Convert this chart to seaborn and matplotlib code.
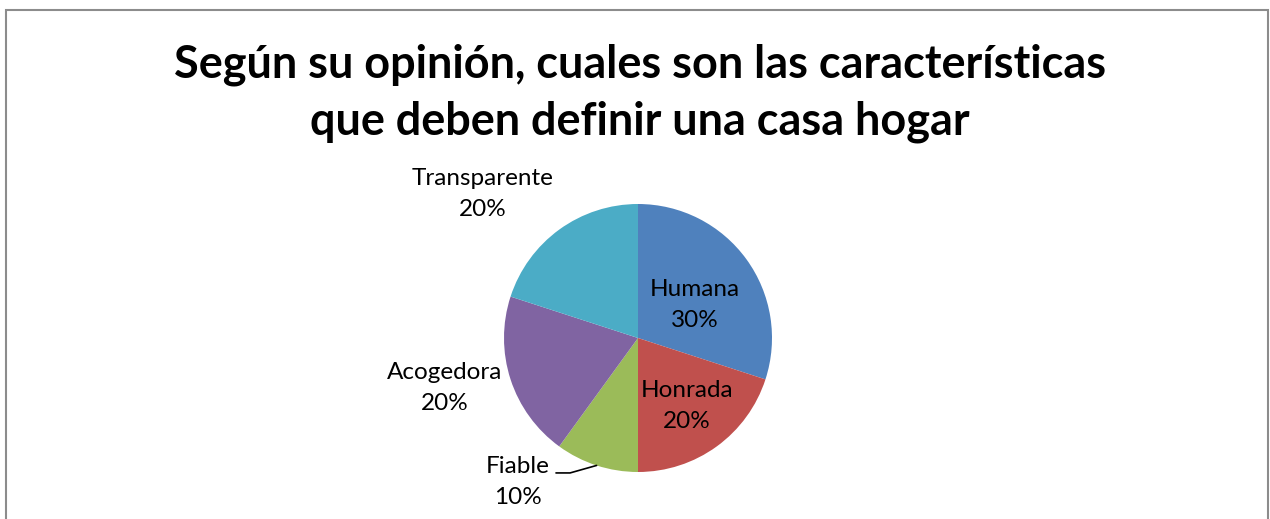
import numpy as np
import matplotlib
matplotlib.use("Agg")
import matplotlib.pyplot as plt
import seaborn as sns
from matplotlib.patches import Rectangle

# data
categorias = ["Humana", "Honrada", "Fiable", "Acogedora", "Transparente"]
porcentajes = [30, 20, 10, 20, 20]
colores = ["#4F81BD", "#C0504D", "#9BBB59", "#8064A2", "#4BACC6"]
titulo = "Según su opinión, cuales son las características\nque deben definir una casa hogar"

sns.set_theme(style="white")
plt.rcParams["font.family"] = ["Lato", "DejaVu Sans"]

W, H = 1270, 519
fig = plt.figure(figsize=(W / 100, H / 100), dpi=100)

# outer frame like the office chart area
fig.patches.append(Rectangle((6 / W, -0.05), (1268 - 6) / W, (H - 10) / H + 0.05,
                             transform=fig.transFigure, fill=False,
                             edgecolor="#8C8C8C", linewidth=1.5))

fig.text(640 / W, 1 - 93 / H, titulo, ha="center", va="center",
         fontsize=32.4, fontweight="bold", linespacing=1.42, color="black")

cx, cy, r = 638, 338, 134
ax = fig.add_axes([(cx - r) / W, (H - cy - r) / H, 2 * r / W, 2 * r / H])
pal = sns.color_palette(colores)
wedges, _ = ax.pie(porcentajes, colors=pal, startangle=90, counterclock=False,
                   radius=1, wedgeprops=dict(linewidth=0))
ax.set_xlim(-1, 1)
ax.set_ylim(-1, 1)
ax.set_aspect("equal")
ax.axis("off")

# label positions (data units of the pie axes)
label_pos = {
    "Humana": (0.425, 0.246),
    "Honrada": (0.366, -0.507),
    "Fiable": (-0.896, -1.075),
    "Acogedora": (-1.440, -0.373),
    "Transparente": (-1.157, 1.075),
}
for w, cat, p in zip(wedges, categorias, porcentajes):
    x, y = label_pos[cat]
    ax.text(x, y, f"{cat}\n{p}%", ha="center", va="center", fontsize=17.5,
            linespacing=1.62, color="black", clip_on=False)

# leader line for the small slice
w = wedges[2]
ang = np.deg2rad((w.theta1 + w.theta2) / 2)
ex, ey = np.cos(ang), np.sin(ang)
lx, ly = label_pos["Fiable"]
ax.plot([lx + 0.284, lx + 0.389, ex], [ly + 0.068, ly + 0.068, ey], color="black",
        linewidth=1.2, clip_on=False)

fig.savefig("out.png", dpi=100)
